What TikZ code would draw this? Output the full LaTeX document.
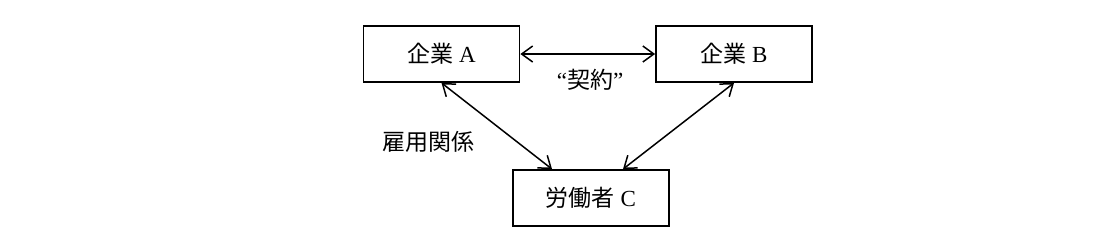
\documentclass[tikz,border=0pt]{standalone}
\usepackage{fontspec}
\setmainfont{Liberation Serif}
\newfontfamily\cjk{Noto Sans CJK JP}
\usepackage{tikz}
\usetikzlibrary{positioning,arrows.meta}

\begin{document}
\begin{tikzpicture}[x=0.5pt,y=-0.5pt,
  firm/.style={draw, line width=0.9pt, minimum width=78pt, minimum height=28pt, inner sep=0pt, font=\fontsize{11.5}{13}\selectfont},
  link/.style={line width=0.75pt, {Straight Barb[length=5.5pt,width=8pt]}-{Straight Barb[length=5.5pt,width=8pt]}}]
\useasboundingbox (0,0) rectangle (1118,248);

\node[firm] (firmA) at (441.5,54) {{\cjk 企業} A};
\node[firm] (firmB) at (734,54) {{\cjk 企業} B};
\node[firm] (worker) at (591,198) {{\cjk 労働者} C};

\draw[link] (firmA) -- (firmB);
\draw[link] (firmA.south) -- ([xshift=-19.5pt]worker.north);
\draw[link] (firmB.south) -- ([xshift=16pt]worker.north);

\node[font=\fontsize{11.5}{13}\selectfont] (contract) at (590,80) {“{\cjk 契約}”};
\node[font=\fontsize{11.5}{13}\selectfont] (employ) at (428,142) {\cjk 雇用関係};

\end{tikzpicture}
\end{document}
